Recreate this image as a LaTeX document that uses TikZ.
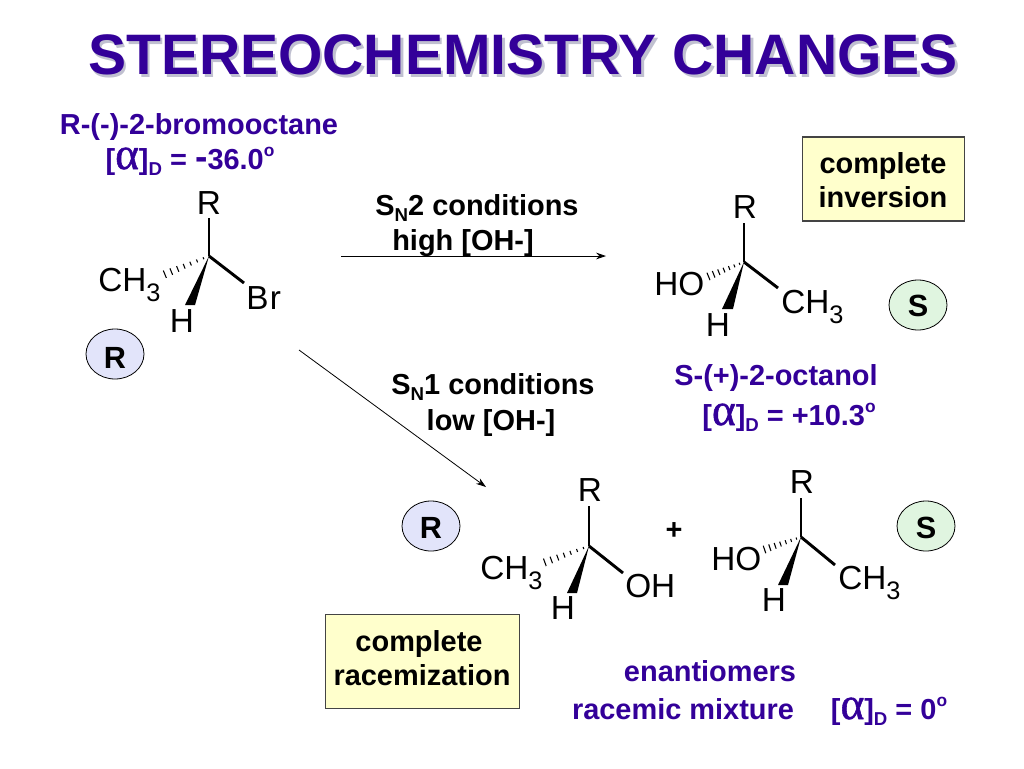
\documentclass[tikz,border=0pt]{standalone}
\usepackage{fontspec}
\setmainfont{Liberation Sans}
\newfontfamily\alphafont[FakeBold=1.2]{Liberation Serif}
\usetikzlibrary{calc,arrows.meta}
\definecolor{indigotext}{HTML}{330099}
\definecolor{shadowgrey}{HTML}{C0C0D0}
\definecolor{boxyellow}{HTML}{FFFFCC}
\definecolor{rfill}{HTML}{E2E4FA}
\definecolor{sfill}{HTML}{E0F5E0}
\definecolor{boxedge}{HTML}{444444}
\newcommand{\lowt}[2][-0.22em]{\raisebox{#1}{\fontsize{14}{16}\selectfont #2}}
\newcommand{\upt}[1]{\raisebox{0.42em}{\fontsize{13}{15}\selectfont #1}}
\newcommand{\alphasym}{\smash{\alphafont\mdseries\fontsize{34}{34}\selectfont α}}
\newcommand{\molsub}[1]{\raisebox{-0.3em}{\fontsize{19}{20}\selectfont #1}}
\newcommand{\hashbond}[2]{%
  \coordinate (far) at ($(#1)!2!(#2)$);
  \foreach \t in {0.12,0.26,0.40,0.54,0.68,0.82,0.96}{
    \pgfmathsetmacro{\w}{0.5+2.6*\t}
    \draw[hashline] ($(#1)!\t!(#2)!\w pt!90:(far)$) -- ($(#1)!\t!(#2)!\w pt!-90:(far)$);
  }}
\newcommand{\wedgebond}[3]{\fill[black] (#1) -- (#2) -- (#3) -- cycle;}
\tikzset{
  px/.style={x=0.75pt,y=-0.75pt},
  titletext/.style={font=\bfseries\fontsize{42.8}{48}\selectfont,text=indigotext,inner sep=0pt,anchor=base},
  purple/.style={font=\bfseries\fontsize{21.7}{24}\selectfont,text=indigotext,inner sep=0pt,anchor=base},
  blacklabel/.style={font=\bfseries\fontsize{21.7}{24}\selectfont,text=black,inner sep=0pt,anchor=base},
  badgeletter/.style={font=\bfseries\fontsize{23}{26}\selectfont,text=black,inner sep=0pt,anchor=base},
  atom/.style={font=\fontsize{25}{28}\selectfont,text=black,inner sep=0pt,anchor=base},
  bond/.style={line width=2.2pt,black},
  hashline/.style={line width=0.8pt,black},
  reaction/.style={line width=0.6pt,black,-{Stealth[length=7.5pt,width=5pt]}},
  rbadge/.style={ellipse badge,fill=rfill},
  sbadge/.style={ellipse badge,fill=sfill},
  ellipse badge/.style={draw=black,line width=0.6pt},
  note/.style={draw=boxedge,line width=0.9pt,fill=boxyellow,inner sep=0pt}
}
\begin{document}
\begin{tikzpicture}[px]
\useasboundingbox (0,0) rectangle (1024,768);
% title
\node[titletext,text=shadowgrey] (titleshadow) at (525.5,77) {STEREOCHEMISTRY CHANGES};
\node[titletext] (title) at (523,74) {STEREOCHEMISTRY CHANGES};
% top-left labels
\node[purple] (name1) at (199,134) {R-(-)-2-bromooctane};
\node[purple] (rot1) at (190,169) {[\alphasym]\lowt{D} = {\fontsize{28}{28}\selectfont -}36.0\upt{o}};
% molecule 1
\coordinate (c1) at (209,256);
\coordinate (r1) at (209,218);
\coordinate (br1) at (244,283);
\coordinate (h1) at (163,275);
\coordinate (wa1) at (185,305);
\coordinate (wb1) at (195,305);
\draw[bond] (c1) -- (r1);
\draw[bond] (c1) -- (br1);
\hashbond{c1}{h1}
\wedgebond{c1}{wa1}{wb1}
\node[atom] (aR1) at (209,214) {R};
\node[atom,anchor=base west] (aC1) at (98,291) {CH\molsub{3}};
\node[atom] (aH1) at (182,332) {H};
\node[atom,anchor=base west] (aB1) at (246,309) {B\kern1pt r};
% molecule 2
\coordinate (c2) at (744,262);
\coordinate (r2) at (744,223);
\coordinate (m2) at (778,288);
\coordinate (h2) at (707,277);
\coordinate (wa2) at (722,309);
\coordinate (wb2) at (733,309);
\draw[bond] (c2) -- (r2);
\draw[bond] (c2) -- (m2);
\hashbond{c2}{h2}
\wedgebond{c2}{wa2}{wb2}
\node[atom] (aR2) at (745,218) {R};
\node[atom,anchor=base west] (aO2) at (654,295) {HO};
\node[atom,anchor=base west] (aC2) at (781,313) {CH\molsub{3}};
\node[atom] (aH2) at (718,336) {H};
% molecule 3
\coordinate (c3) at (589,546);
\coordinate (r3) at (589,506);
\coordinate (o3) at (623,573);
\coordinate (h3) at (543,563);
\coordinate (wa3) at (567,593);
\coordinate (wb3) at (577,593);
\draw[bond] (c3) -- (r3);
\draw[bond] (c3) -- (o3);
\hashbond{c3}{h3}
\wedgebond{c3}{wa3}{wb3}
\node[atom] (aR3) at (590,501) {R};
\node[atom,anchor=base west] (aC3) at (480,579) {CH\molsub{3}};
\node[atom,anchor=base west] (aO3) at (625,597) {OH};
\node[atom] (aH3) at (563,619) {H};
% molecule 4
\coordinate (c4) at (801,537);
\coordinate (r4) at (801,498);
\coordinate (m4) at (835,565);
\coordinate (h4) at (763,550);
\coordinate (wa4) at (778,585);
\coordinate (wb4) at (788,585);
\draw[bond] (c4) -- (r4);
\draw[bond] (c4) -- (m4);
\hashbond{c4}{h4}
\wedgebond{c4}{wa4}{wb4}
\node[atom] (aR4) at (802,493) {R};
\node[atom,anchor=base west] (aO4) at (711,570) {HO};
\node[atom,anchor=base west] (aC4) at (838,589) {CH\molsub{3}};
\node[atom] (aH4) at (774,611) {H};
% plus
\node[blacklabel] (plus) at (674,539) {+};
% reaction labels
\node[blacklabel] (sn2a) at (477,215) {S\lowt{N}2 conditions};
\node[blacklabel] (sn2b) at (463,250) {high [OH-]};
\node[blacklabel] (sn1a) at (493,394) {S\lowt{N}1 conditions};
\node[blacklabel] (sn1b) at (491,430) {low [OH-]};
% arrows
\coordinate (a1s) at (341,256);
\coordinate (a1e) at (606,256);
\coordinate (a2s) at (299,350);
\coordinate (a2e) at (486,487);
\draw[reaction] (a1s) -- (a1e);
\draw[reaction] (a2s) -- (a2e);
% octanol labels
\node[purple] (name2) at (776,385) {S-(+)-2-octanol};
\node[purple] (rot2) at (789,425) {[\alphasym]\lowt{D} = +10.3\upt{o}};
\node[purple] (enant) at (710,681) {enantiomers};
\node[purple] (racem) at (683,719) {racemic mixture};
\node[purple] (rot3) at (889,719) {[\alphasym]\lowt{D} = 0\upt{o}};
% notes
\node[note,minimum width=121.5pt,minimum height=63pt] (boxinv) at (883.5,179) {};
\node[blacklabel] (inv1) at (883,173) {complete};
\node[blacklabel] (inv2) at (883,207) {inversion};
\node[note,minimum width=146pt,minimum height=70pt] (boxrac) at (422.5,661.5) {};
\node[blacklabel] (rac1) at (419,651) {complete};
\node[blacklabel] (rac2) at (422,685) {racemization};
% badges
\draw[rbadge] (115,354) ellipse (29 and 25);
\node[badgeletter] (bR1) at (115,368) {R};
\draw[sbadge] (918,305) ellipse (29 and 25);
\node[badgeletter] (bS1) at (918,316) {S};
\draw[rbadge] (431,526) ellipse (29 and 25);
\node[badgeletter] (bR2) at (431,538) {R};
\draw[sbadge] (926,526) ellipse (29 and 25);
\node[badgeletter] (bS2) at (926,538) {S};
\end{tikzpicture}
\end{document}
